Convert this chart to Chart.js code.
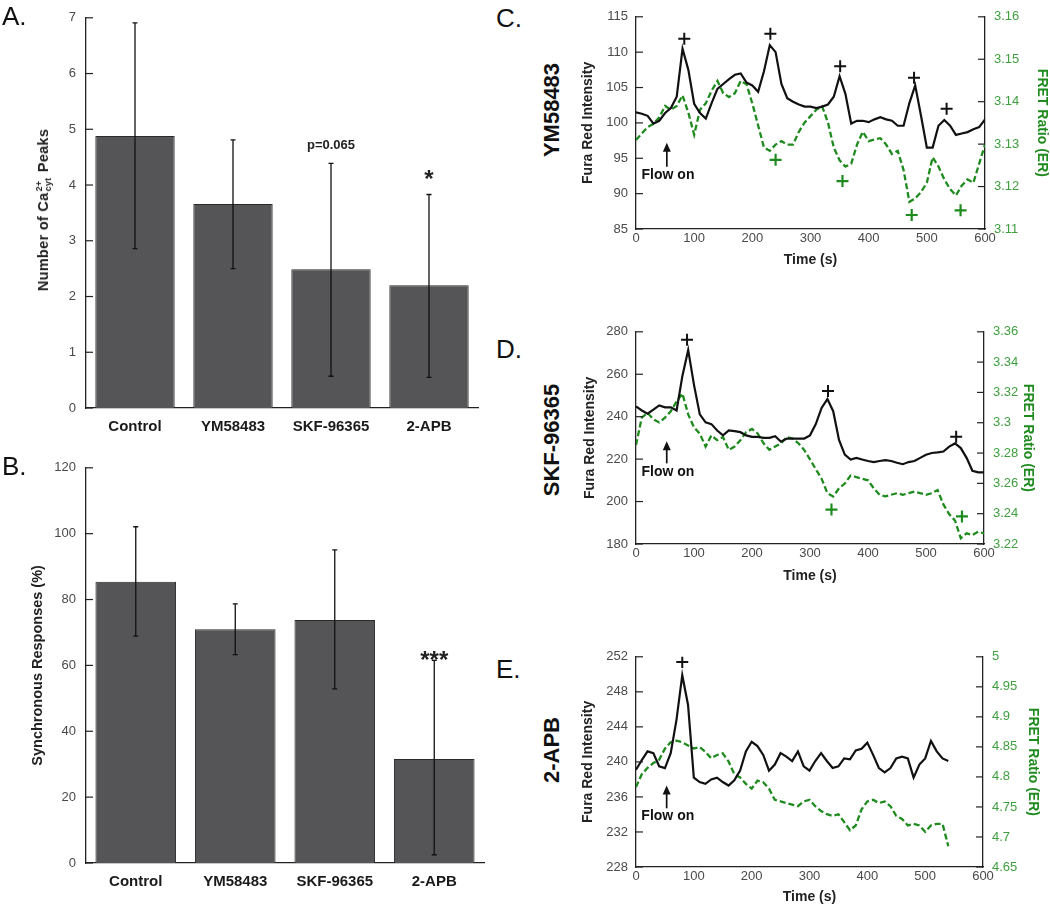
<!DOCTYPE html>
<html lang="en">
<head>
    <meta charset="UTF-8">
    <title>Ca peaks and FRET traces</title>
    <style>
        body {
            margin: 0;
            background: #fff;
            font-family: 'Liberation Sans', Arial, sans-serif;
        }
        #page {
            position: relative;
            width: 1050px;
            height: 906px;
            overflow: hidden;
        }
        canvas {
            position: absolute;
        }
        .letter {
            position: absolute;
            font-size: 26px;
            line-height: 1;
            color: #111;
        }
        .rot {
            position: absolute;
            white-space: nowrap;
            transform: translate(-50%, -50%) rotate(-90deg);
            font-weight: bold;
            color: #111;
            line-height: 1;
        }
        .drug {
            font-size: 22px;
        }
        .ytitle {
            font-size: 14.5px;
            letter-spacing: 0.3px;
            color: #222;
        }
        .ss {
            display: inline-flex;
            flex-direction: column;
            font-size: 9px;
            line-height: 1;
            vertical-align: middle;
            margin: 0 1px;
        }
    </style>
</head>
<body>
<div id="page">
    <canvas id="chartA" width="490" height="445" style="left:0;top:0"></canvas>
    <canvas id="chartB" width="490" height="456" style="left:0;top:450px"></canvas>
    <canvas id="chartC" width="480" height="275" style="left:570px;top:0"></canvas>
    <canvas id="chartD" width="480" height="275" style="left:570px;top:315px"></canvas>
    <canvas id="chartE" width="480" height="266" style="left:570px;top:640px"></canvas>

    <div class="letter" style="left:2px;top:3px">A.</div>
    <div class="letter" style="left:2px;top:453px">B.</div>
    <div class="letter" style="left:496px;top:5px">C.</div>
    <div class="letter" style="left:496px;top:336px">D.</div>
    <div class="letter" style="left:496px;top:656px">E.</div>

    <div class="rot ytitle" style="left:44px;top:210px">Number of Ca<span class="ss"><span>2+</span><span>cyt</span></span> Peaks</div>

    <div class="rot drug" style="left:552px;top:110px">YM58483</div>
    <div class="rot drug" style="left:552px;top:440px">SKF-96365</div>
    <div class="rot drug" style="left:552px;top:750px">2-APB</div>
</div>

<script src="https://cdn.jsdelivr.net/npm/chart.js"></script>
<script>
// ---- bar panels (A, B) ----
const drugs = ['Control', 'YM58483', 'SKF-96365', '2-APB'];

const peaksMean = [4.88, 3.66, 2.49, 2.2];
const peaksLo = [2.86, 2.50, 0.57, 0.55];
const peaksHi = [6.91, 4.81, 4.39, 3.83];
const peaksTicks = [0, 1, 2, 3, 4, 5, 6, 7];

const syncMean = [85.4, 71.0, 73.8, 31.6];
const syncLo = [68.9, 63.3, 52.9, 2.5];
const syncHi = [102.1, 78.7, 95.1, 61.5];
const syncTicks = [0, 20, 40, 60, 80, 100, 120];

// significance notes: [bar index, value, text]
const peaksNotes = [[2, 4.71, 'p=0.065'], [3, 4.22, '*']];
const syncNotes = [[3, 63.5, '***']];

// ---- trace panels (C, D, E) ----
const timeC = [0,10,20,30,40,50,60,70,80,90,100,110,120,130,140,150,160,170,180,190,200,210,220,230,240,250,260,270,280,290,300,
    310,320,330,340,350,360,370,380,390,400,410,420,430,440,450,460,470,480,490,500,510,520,530,540,550,560,570,580,590,600];
const furaC = [101.5,101.3,101.0,99.9,100.3,101.4,102.1,103.7,110.5,107.5,
    102.7,101.4,100.6,102.8,104.8,105.5,106.2,106.8,107.0,105.7,
    105.3,104.4,107.3,111.0,110.0,105.5,103.5,103.0,102.6,102.3,
    102.3,102.1,102.3,102.6,103.7,106.6,104.1,99.9,100.3,100.3,
    100.1,100.5,100.8,100.5,100.3,99.6,99.6,102.8,105.3,101.0,
    96.5,96.5,99.6,100.4,99.6,98.3,98.5,98.7,99.1,99.4,
    100.5];
const fretC = [3.131,3.1325,3.134,3.1348,3.1363,3.139,3.1381,3.139,3.1415,3.1374,
    3.1322,3.1381,3.1396,3.1426,3.1449,3.142,3.1411,3.142,3.1449,3.1441,
    3.1396,3.1344,3.1292,3.1284,3.1299,3.1307,3.1299,3.1299,3.1329,3.1351,
    3.1366,3.1381,3.1389,3.1351,3.1292,3.1262,3.1247,3.1254,3.1299,3.1329,
    3.1307,3.1311,3.1314,3.1299,3.1277,3.1284,3.1239,3.1164,3.1172,3.1187,
    3.1209,3.1269,3.1247,3.1217,3.1194,3.1179,3.1202,3.1217,3.1209,3.1254,
    3.1299];
const plusFuraC = [[83, 111.9], [231, 112.6], [351, 108.0], [478, 106.4], [534, 102.0]];
const plusFretC = [[240, 3.1263], [355, 3.1213], [474, 3.1133], [558, 3.1144]];
const ticksFuraC = [85, 90, 95, 100, 105, 110, 115];
const ticksFretC = [3.11, 3.12, 3.13, 3.14, 3.15, 3.16];
const flowC = [53, 97.2, 93.8, 92.6];   // time, arrow tip, arrow base, label

const timeD = timeC;
const furaD = [244.8,242.9,241.4,243.3,245.3,244.4,244.4,242.9,259.2,271.4,
    255.0,241.1,237.3,236.5,233.5,231.2,233.5,233.2,232.7,231.2,
    230.5,230.5,230.0,230.0,230.8,228.2,229.7,229.7,229.7,229.7,
    231.2,236.5,244.1,248.3,242.6,229.0,222.1,219.8,220.6,219.8,
    219.1,218.6,219.1,219.5,219.1,218.3,217.6,218.6,219.1,220.6,
    222.1,222.9,223.2,223.6,225.9,227.4,225.2,220.6,214.5,213.8,
    213.8];
const fretD = [3.2853,3.3034,3.3065,3.3023,3.3002,3.3034,3.3076,3.314,3.3193,3.3055,
    3.297,3.2928,3.2843,3.2917,3.2885,3.2906,3.2821,3.2843,3.2885,3.2938,
    3.2959,3.2928,3.2864,3.2821,3.2843,3.2864,3.2906,3.2896,3.2864,3.2821,
    3.2758,3.2694,3.2631,3.2535,3.2514,3.2567,3.2599,3.2652,3.2641,3.2631,
    3.262,3.2567,3.2525,3.2514,3.2525,3.2535,3.2525,3.2535,3.2546,3.2535,
    3.2525,3.2535,3.2556,3.2461,3.2397,3.2355,3.2238,3.227,3.2259,3.2281,
    3.227];
const plusFuraD = [[88, 276.2], [331, 252.1], [552, 230.5]];
const plusFretD = [[337, 3.2427], [562, 3.2382]];
const ticksFuraD = [180, 200, 220, 240, 260, 280];
const ticksFretD = [3.22, 3.24, 3.26, 3.28, 3.3, 3.32, 3.34, 3.36];
const flowD = [53, 228.4, 218.0, 214.0];

const timeE = timeC.slice(0, 55);
const furaE = [239.1,240.2,241.2,241.0,239.5,239.3,241.0,244.8,249.9,246.5,
    238.2,237.7,237.5,238.0,238.2,237.7,237.3,237.9,239.0,241.2,
    242.3,241.8,240.8,239.0,239.7,241.0,240.6,240.1,241.2,239.5,
    239.0,240.1,241.0,240.1,239.3,239.5,240.4,240.3,241.3,241.5,
    242.2,240.8,239.3,238.8,239.3,240.4,240.6,240.4,238.2,239.7,
    240.4,242.4,241.2,240.4,240.1];
const fretE = [4.783,4.8045,4.8151,4.8231,4.8284,4.8471,4.8577,4.8604,4.8577,4.8524,
    4.8471,4.8498,4.8418,4.8311,4.8365,4.8391,4.8258,4.8045,4.7991,4.7885,
    4.7805,4.7938,4.7911,4.7805,4.7618,4.7592,4.7565,4.7539,4.7512,4.7592,
    4.7618,4.7512,4.7432,4.7379,4.7352,4.7379,4.7246,4.7112,4.7192,4.7459,
    4.7592,4.7618,4.7565,4.7592,4.7512,4.7352,4.7299,4.7192,4.7219,4.7192,
    4.7086,4.7192,4.7219,4.7219,4.6846];
const plusFuraE = [[80, 251.4]];
const plusFretE = [];
const ticksFuraE = [228, 232, 236, 240, 244, 248, 252];
const ticksFretE = [4.65, 4.7, 4.75, 4.8, 4.85, 4.9, 4.95, 5];
const flowE = [53, 237.3, 234.7, 233.8];

const timeTicks = [0, 100, 200, 300, 400, 500, 600];

const FONT = "'Liberation Sans', Arial, sans-serif";
const GREEN = '#1f8b1f';
const GREEN_TXT = '#3f9f3f';
Chart.defaults.font.family = FONT;
Chart.defaults.color = '#4a4a4a';
Chart.defaults.animation = false;

const fmt = v => String(Math.round(v * 1000) / 1000);
const setTicks = arr => scale => { scale.ticks = arr.map(v => ({ value: v })); };

// short tick marks pointing into the plot
const inTicks = {
    id: 'inTicks',
    afterDraw(chart) {
        const ctx = chart.ctx;
        ctx.save();
        ctx.lineWidth = 1.2;
        ctx.strokeStyle = '#222';
        Object.values(chart.scales).forEach(s => {
            if (s.position !== 'left' && s.position !== 'right') return;
            s.ticks.forEach(t => {
                const p = s.getPixelForValue(t.value);
                ctx.beginPath();
                if (s.position === 'left') { ctx.moveTo(s.right, p); ctx.lineTo(s.right + 7, p); }
                else { ctx.moveTo(s.left, p); ctx.lineTo(s.left - 7, p); }
                ctx.stroke();
            });
        });
        ctx.restore();
    }
};

function errBars(lo, hi, notes) {
    return {
        id: 'errBars',
        afterDatasetsDraw(chart) {
            const ctx = chart.ctx, y = chart.scales.y;
            const bars = chart.getDatasetMeta(0).data;
            ctx.save();
            ctx.strokeStyle = '#111';
            ctx.lineWidth = 1.3;
            bars.forEach((b, i) => {
                const top = y.getPixelForValue(hi[i]), bot = y.getPixelForValue(lo[i]);
                ctx.beginPath();
                ctx.moveTo(b.x, top); ctx.lineTo(b.x, bot);
                ctx.moveTo(b.x - 2.5, top); ctx.lineTo(b.x + 2.5, top);
                ctx.moveTo(b.x - 2.5, bot); ctx.lineTo(b.x + 2.5, bot);
                ctx.stroke();
            });
            ctx.fillStyle = '#222';
            ctx.textAlign = 'center';
            notes.forEach(([i, v, txt]) => {
                const py = y.getPixelForValue(v);
                if (txt[0] === '*') {
                    ctx.font = 'bold 24px ' + FONT;
                    ctx.textBaseline = 'alphabetic';
                    ctx.fillText(txt, bars[i].x, py + 14);
                } else {
                    ctx.font = 'bold 13px ' + FONT;
                    ctx.textBaseline = 'middle';
                    ctx.fillText(txt, bars[i].x, py);
                }
            });
            ctx.restore();
        }
    };
}

function barChart(id, vals, lo, hi, ticks, notes, pad, xh, title) {
    return new Chart(document.getElementById(id), {
        type: 'bar',
        data: {
            labels: drugs,
            datasets: [{
                data: vals,
                backgroundColor: '#555557',
                borderColor: '#2a2a2a',
                borderWidth: 1,
                barPercentage: 0.81,
                categoryPercentage: 1
            }]
        },
        options: {
            responsive: false,
            layout: { padding: pad },
            plugins: { legend: { display: false }, tooltip: { enabled: false } },
            scales: {
                x: {
                    grid: { display: false, drawTicks: false },
                    border: { color: '#222', width: 1.3 },
                    ticks: { color: '#1a1a1a', font: { size: 15, weight: 'bold' }, padding: 10 },
                    afterFit: s => { s.height = xh; }
                },
                y: {
                    min: ticks[0],
                    max: ticks[ticks.length - 1],
                    afterBuildTicks: setTicks(ticks),
                    grid: { display: false, drawTicks: false },
                    border: { color: '#222', width: 1.3 },
                    ticks: { font: { size: 13 }, padding: 10, callback: fmt },
                    title: title,
                    afterFit: s => { s.width = 86; }
                }
            }
        },
        plugins: [errBars(lo, hi, notes), inTicks]
    });
}

barChart('chartA', peaksMean, peaksLo, peaksHi, peaksTicks, peaksNotes,
    { top: 13, right: 12, left: 0, bottom: 0 }, 37, { display: false });
barChart('chartB', syncMean, syncLo, syncHi, syncTicks, syncNotes,
    { top: 17, right: 6, left: 0, bottom: 0 }, 43,
    { display: true, text: 'Synchronous Responses (%)', color: '#222',
      font: { size: 14.5, weight: 'bold' }, padding: { top: 29.3, bottom: 0 } });

function flowArrow(f) {
    return {
        id: 'flowArrow',
        afterDatasetsDraw(chart) {
            const ctx = chart.ctx, x = chart.scales.x, y = chart.scales.yL;
            const px = x.getPixelForValue(f[0]);
            const tip = y.getPixelForValue(f[1]), base = y.getPixelForValue(f[2]);
            ctx.save();
            ctx.strokeStyle = '#111';
            ctx.fillStyle = '#111';
            ctx.lineWidth = 1.7;
            ctx.beginPath();
            ctx.moveTo(px, base); ctx.lineTo(px, tip + 6);
            ctx.stroke();
            ctx.beginPath();
            ctx.moveTo(px, tip); ctx.lineTo(px - 4, tip + 9); ctx.lineTo(px + 4, tip + 9);
            ctx.closePath();
            ctx.fill();
            ctx.font = 'bold 14px ' + FONT;
            ctx.textAlign = 'center';
            ctx.textBaseline = 'middle';
            ctx.fillText('Flow on', x.getPixelForValue(f[0] + 2), y.getPixelForValue(f[3]));
            ctx.restore();
        }
    };
}

function traceChart(id, t, fura, fret, plusF, plusR, tF, tR, flow, g) {
    const pts = (a, b) => a.map((v, i) => ({ x: v, y: b[i] }));
    const pp = a => a.map(p => ({ x: p[0], y: p[1] }));
    return new Chart(document.getElementById(id), {
        type: 'line',
        data: {
            datasets: [
                { data: pts(t, fura), yAxisID: 'yL', borderColor: '#111', borderWidth: 2.2,
                  pointRadius: 0, order: 1 },
                { data: pts(t, fret), yAxisID: 'yR', borderColor: GREEN, borderWidth: 2.3,
                  borderDash: [6, 3], pointRadius: 0, order: 2 },
                { data: pp(plusF), yAxisID: 'yL', showLine: false, pointStyle: 'cross',
                  pointRadius: 6, borderWidth: 2, borderColor: '#111', order: 0 },
                { data: pp(plusR), yAxisID: 'yR', showLine: false, pointStyle: 'cross',
                  pointRadius: 6, borderWidth: 2.2, borderColor: GREEN, order: 0 }
            ]
        },
        options: {
            responsive: false,
            layout: { padding: { top: g.top, left: 0, right: 0, bottom: 0 } },
            plugins: { legend: { display: false }, tooltip: { enabled: false } },
            scales: {
                x: {
                    type: 'linear',
                    min: 0,
                    max: 600,
                    afterBuildTicks: setTicks(timeTicks),
                    grid: { display: false, drawTicks: false },
                    border: { color: '#222', width: 1.3 },
                    ticks: { font: { size: 13 }, padding: 2, callback: fmt },
                    title: { display: true, text: 'Time (s)', color: '#222',
                             font: { size: 14, weight: 'bold' }, padding: { top: 0, bottom: g.xb } },
                    afterFit: s => { s.height = g.xh; }
                },
                yL: {
                    position: 'left',
                    min: tF[0],
                    max: tF[tF.length - 1],
                    afterBuildTicks: setTicks(tF),
                    grid: { display: false, drawTicks: false },
                    border: { color: '#222', width: 1.3 },
                    ticks: { font: { size: 13 }, padding: 8, callback: fmt },
                    title: { display: true, text: 'Fura Red Intensity', color: '#222',
                             font: { size: 14, weight: 'bold' }, padding: { top: g.lt, bottom: 0 } },
                    afterFit: s => { s.width = 66; }
                },
                yR: {
                    position: 'right',
                    min: tR[0],
                    max: tR[tR.length - 1],
                    afterBuildTicks: setTicks(tR),
                    grid: { display: false, drawTicks: false },
                    border: { color: '#222', width: 1.3 },
                    ticks: { color: GREEN_TXT, font: { size: 13 }, padding: 9, callback: fmt },
                    title: { display: true, text: 'FRET Ratio (ER)', color: GREEN,
                             font: { size: 14, weight: 'bold' }, padding: { top: g.rt, bottom: 0 } },
                    afterFit: s => { s.width = g.yr; }
                }
            }
        },
        plugins: [flowArrow(flow), inTicks]
    });
}

traceChart('chartC', timeC, furaC, fretC, plusFuraC, plusFretC, ticksFuraC, ticksFretC, flowC,
    { top: 6, xh: 46, xb: 6.6, yr: 65, lt: 9.6, rt: 0 });
traceChart('chartD', timeD, furaD, fretD, plusFuraD, plusFretD, ticksFuraD, ticksFretD, flowD,
    { top: 9, xh: 46, xb: 5.9, yr: 66, lt: 11.6, rt: 13.6 });
traceChart('chartE', timeE, furaE, fretE, plusFuraE, plusFretE, ticksFuraE, ticksFretE, flowE,
    { top: 8, xh: 39, xb: 0.6, yr: 67, lt: 9.6, rt: 8.6 });
</script>
</body>
</html>
